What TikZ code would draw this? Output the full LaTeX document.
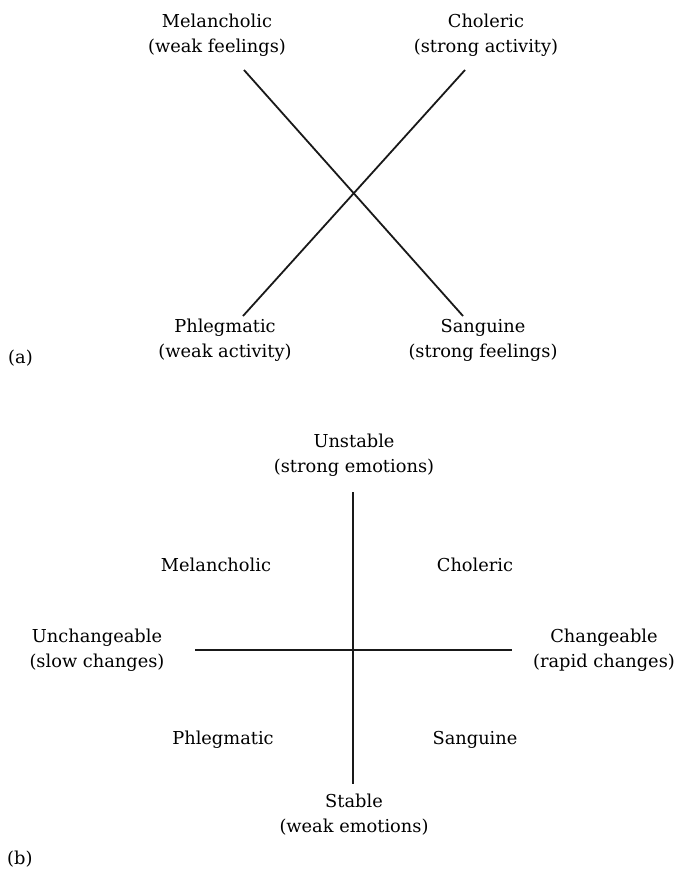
\documentclass[tikz,border=0pt]{standalone}
\usepackage{fontspec}
\setmainfont{DejaVu Serif}
\begin{document}
\begin{tikzpicture}[x=1pt,y=-1pt,
  lbl/.style={align=center,inner sep=0pt,font=\fontsize{17.8}{25}\selectfont,text=black},
  axis/.style={line width=1.8pt,black!90}]
\useasboundingbox (0,0) rectangle (674,881);
% (a)
\node[lbl] (mel) at (217,35) {Melancholic\\(weak feelings)};
\node[lbl] (cho) at (486,35) {Choleric\\(strong activity)};
\node[lbl] (phl) at (225,340) {Phlegmatic\\(weak activity)};
\node[lbl] (san) at (483,340) {Sanguine\\(strong feelings)};
\node[lbl,anchor=west] (la) at (8,358) {(a)};
\coordinate (m1) at (244,70);
\coordinate (m2) at (463,316);
\coordinate (c1) at (465,70);
\coordinate (c2) at (243,316);
\draw[axis] (m1) -- (m2);
\draw[axis] (c1) -- (c2);
% (b)
\node[lbl] (uns) at (354,455) {Unstable\\(strong emotions)};
\node[lbl] (sta) at (354,815) {Stable\\(weak emotions)};
\node[lbl] (unc) at (97,650) {Unchangeable\\(slow changes)};
\node[lbl] (chg) at (604,650) {Changeable\\(rapid changes)};
\node[lbl] (bmel) at (216,565) {Melancholic};
\node[lbl] (bcho) at (475,565) {Choleric};
\node[lbl] (bphl) at (223,740) {Phlegmatic};
\node[lbl] (bsan) at (475,740) {Sanguine};
\node[lbl,anchor=west] (lb) at (7,859) {(b)};
\coordinate (v1) at (353,492);
\coordinate (v2) at (353,784);
\coordinate (h1) at (195,650);
\coordinate (h2) at (512,650);
\draw[axis] (v1) -- (v2);
\draw[axis] (h1) -- (h2);
\end{tikzpicture}
\end{document}
